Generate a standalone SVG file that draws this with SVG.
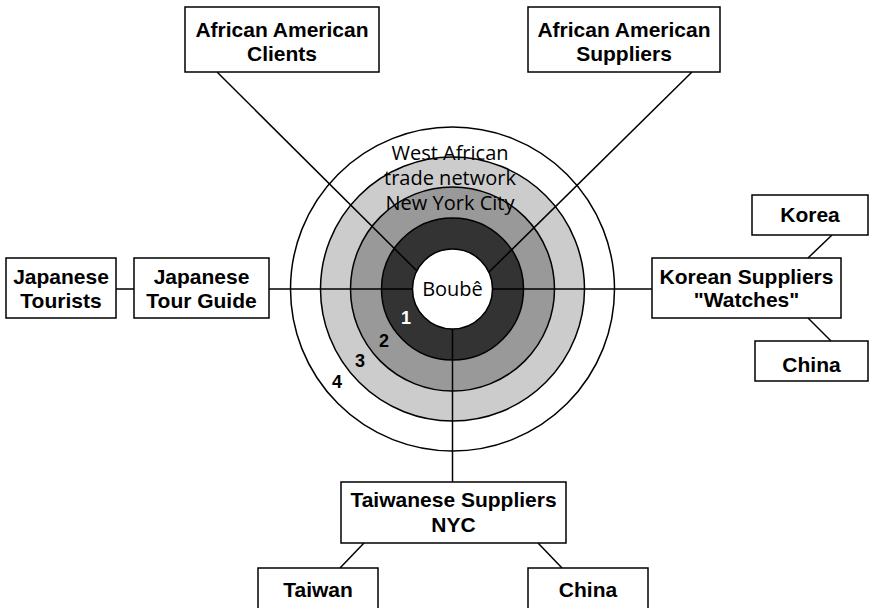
<svg xmlns="http://www.w3.org/2000/svg" width="869" height="608" viewBox="0 0 869 608">
<style>
  .box { fill: #fff; stroke: #000; stroke-width: 1.5; }
  .ring { stroke: #000; stroke-width: 1.5; }
  .lbl { font-family: "Liberation Sans", Arial, sans-serif; font-weight: bold; font-size: 21px; text-anchor: middle; fill: #000; }
  .soft { font-family: "Open Sans", "Noto Sans", sans-serif; font-size: 20px; text-anchor: middle; fill: #000; }
  .num { font-family: "Liberation Sans", Arial, sans-serif; font-weight: bold; font-size: 18px; text-anchor: middle; }
  .conn line { stroke: #000; stroke-width: 1.5; }
</style>
<rect x="0" y="0" width="869" height="608" fill="#fff"/>
<g id="rings">
  <circle class="ring" cx="452.5" cy="289" r="162" fill="#fff"/>
  <circle class="ring" cx="452.5" cy="289" r="132" fill="#cccccc"/>
  <circle class="ring" cx="452.5" cy="289" r="102" fill="#999999"/>
  <circle class="ring" cx="452.5" cy="289" r="71" fill="#333333"/>
  <text class="num" x="337" y="388" fill="#000">4</text>
  <text class="num" x="360" y="367" fill="#000">3</text>
  <text class="num" x="384" y="347" fill="#000">2</text>
  <text class="num" x="406" y="324" fill="#fff">1</text>
</g>
<g class="conn" id="connectors">
  <line x1="217" y1="72" x2="420" y2="274"/>
  <line x1="692" y1="72" x2="485" y2="276"/>
  <line x1="269" y1="289" x2="652" y2="289"/>
  <line x1="116" y1="289" x2="134" y2="289"/>
  <line x1="452.5" y1="300" x2="452.5" y2="482"/>
  <line x1="832" y1="235" x2="808" y2="258"/>
  <line x1="808" y1="318" x2="831" y2="341"/>
  <line x1="364" y1="543" x2="340" y2="568"/>
  <line x1="538" y1="543" x2="562" y2="568"/>
</g>
<g id="network-label">
  <text class="soft" x="450" y="160">West African</text>
  <text class="soft" x="450" y="185">trade network</text>
  <text class="soft" x="450" y="210">New York City</text>
</g>
<g id="boube">
  <circle cx="452.5" cy="289" r="40" fill="#fff" stroke="#000" stroke-width="1.5"/>
  <text class="soft" x="452.5" y="296">Boubê</text>
</g>
<g id="aa-clients">
  <rect class="box" x="185" y="7" width="194" height="65"/>
  <text class="lbl" x="282" y="37">African American</text>
  <text class="lbl" x="282" y="61">Clients</text>
</g>
<g id="aa-suppliers">
  <rect class="box" x="528" y="7" width="192" height="65"/>
  <text class="lbl" x="624" y="37">African American</text>
  <text class="lbl" x="624" y="61">Suppliers</text>
</g>
<g id="japanese-tourists">
  <rect class="box" x="6" y="258" width="110" height="60"/>
  <text class="lbl" x="61" y="284">Japanese</text>
  <text class="lbl" x="61" y="308">Tourists</text>
</g>
<g id="japanese-tour-guide">
  <rect class="box" x="134" y="258" width="135" height="60"/>
  <text class="lbl" x="201.5" y="284">Japanese</text>
  <text class="lbl" x="201.5" y="308">Tour Guide</text>
</g>
<g id="korean-suppliers">
  <rect class="box" x="652" y="258" width="189" height="60"/>
  <text class="lbl" x="746.5" y="284">Korean Suppliers</text>
  <text class="lbl" x="746.5" y="307">"Watches"</text>
</g>
<g id="korea">
  <rect class="box" x="752" y="195" width="116" height="40"/>
  <text class="lbl" x="810" y="222">Korea</text>
</g>
<g id="china-right">
  <rect class="box" x="755" y="341" width="113" height="40"/>
  <text class="lbl" x="811.5" y="372">China</text>
</g>
<g id="taiwanese-suppliers">
  <rect class="box" x="341" y="482" width="225" height="61"/>
  <text class="lbl" x="453.5" y="507">Taiwanese Suppliers</text>
  <text class="lbl" x="453.5" y="532">NYC</text>
</g>
<g id="taiwan">
  <rect class="box" x="258" y="568" width="120" height="50"/>
  <text class="lbl" x="318" y="597">Taiwan</text>
</g>
<g id="china-bottom">
  <rect class="box" x="528" y="568" width="120" height="50"/>
  <text class="lbl" x="588" y="597">China</text>
</g>
</svg>
